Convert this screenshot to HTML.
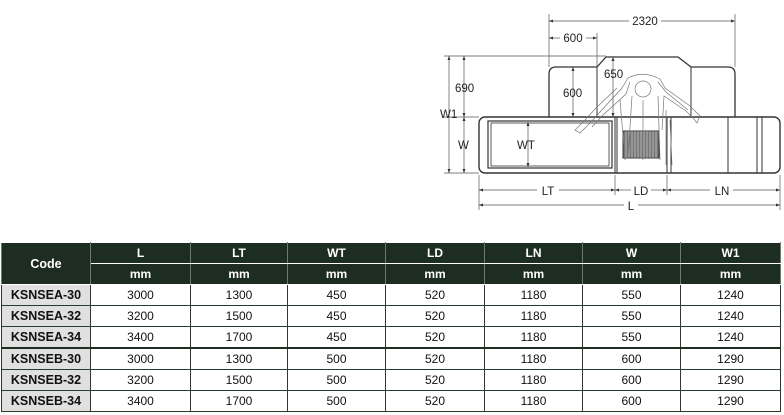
<!DOCTYPE html>
<html><head><meta charset="utf-8"><style>
html,body{margin:0;padding:0;background:#fff;width:784px;height:415px;overflow:hidden;font-family:"Liberation Sans",Arial,sans-serif}
svg{position:absolute;left:0;top:0}
table{position:absolute;left:1px;top:242px;border-collapse:collapse;font-size:12px;table-layout:fixed}
td{padding:0;text-align:center;height:20px;border:1px solid #2a3a2e;color:#111}
.h{background:#1e2d22;color:#fff;font-weight:bold;border-color:#fff #6a7a6e}
.c{background:#e0e0e0;font-weight:bold;font-size:12.5px}
.sep td{border-top:2px solid #1e2d22}
</style></head><body>
<svg width="784" height="240" viewBox="0 0 784 240" font-family="Liberation Sans, Arial, sans-serif" font-size="10" fill="none" stroke="#333" stroke-width="1">
<defs><marker id="a" viewBox="0 0 8 6" refX="8" refY="3" markerWidth="6" markerHeight="5" orient="auto-start-reverse"><path d="M0,0L8,3L0,6z" fill="#333" stroke="none"/></marker></defs>
<path d="M549,117 V74 Q549,67 556,67 H597 L606,57 H678 L691,67 H728 Q735,67 735,74 V117" stroke-width="1.3"/>
<line x1="597" y1="67" x2="597" y2="117"/><line x1="691" y1="67" x2="691" y2="117"/>
<rect x="479" y="117" width="301" height="56" rx="6" stroke-width="1.4"/>
<rect x="488" y="121" width="124" height="47" stroke-width="1.2"/>
<rect x="491" y="123" width="118" height="43" stroke-width="0.8"/>
<line x1="615" y1="117" x2="615" y2="173"/><line x1="617" y1="117" x2="617" y2="173"/>
<line x1="667" y1="117" x2="667" y2="173"/><line x1="671" y1="117" x2="671" y2="173"/>
<line x1="728" y1="117" x2="728" y2="173"/><line x1="757" y1="117" x2="757" y2="173"/><line x1="762" y1="117" x2="762" y2="173"/>
<rect x="623" y="131" width="36" height="27" fill="#777" stroke="#333"/>
<g stroke="#ddd" stroke-width="0.6"><line x1="626" y1="131" x2="626" y2="158"/><line x1="629" y1="131" x2="629" y2="158"/><line x1="632" y1="131" x2="632" y2="158"/><line x1="635" y1="131" x2="635" y2="158"/><line x1="638" y1="131" x2="638" y2="158"/><line x1="641" y1="131" x2="641" y2="158"/><line x1="644" y1="131" x2="644" y2="158"/><line x1="647" y1="131" x2="647" y2="158"/><line x1="650" y1="131" x2="650" y2="158"/><line x1="653" y1="131" x2="653" y2="158"/><line x1="656" y1="131" x2="656" y2="158"/></g>
<g stroke="#777" stroke-width="0.7" fill="none">
<circle cx="643" cy="89" r="8"/>
<path d="M628,78 Q643,70 660,79 L665,88 L690,106 L700,116 L697,123 L693,118 L686,111 L664,96 L662,130"/>
<path d="M628,78 L622,88 L600,112 L590,123 L580,133 L575,130 L585,120 L596,108 L617,88"/>
<path d="M630,82 L626,94 L603,115 L592,127 M658,82 L666,92 L688,110"/>
<path d="M632,96 L628,158 M658,96 L660,160 M643,100 V160 M666,110 L666,165 M670,120 L672,165 M620,100 L625,160"/>
</g>
<g stroke="#555" stroke-width="0.7">
<line x1="549" y1="14" x2="549" y2="67"/><line x1="735" y1="14" x2="735" y2="67"/><line x1="597" y1="33" x2="597" y2="67"/>
<line x1="444" y1="56" x2="606" y2="56"/><line x1="444" y1="117" x2="479" y2="117"/><line x1="444" y1="173" x2="479" y2="173"/>
<line x1="479" y1="175" x2="479" y2="210"/><line x1="780" y1="175" x2="780" y2="210"/>
<line x1="615" y1="175" x2="615" y2="195"/><line x1="667" y1="175" x2="667" y2="195"/>
<line x1="549" y1="21" x2="629" y2="21" marker-start="url(#a)"/><line x1="661" y1="21" x2="735" y2="21" marker-end="url(#a)"/>
<line x1="549" y1="38" x2="560" y2="38" marker-start="url(#a)"/><line x1="586" y1="38" x2="597" y2="38" marker-end="url(#a)"/>
<line x1="449" y1="56" x2="449" y2="173" marker-start="url(#a)" marker-end="url(#a)"/>
<line x1="464" y1="56" x2="464" y2="117" marker-start="url(#a)" marker-end="url(#a)"/>
<line x1="464" y1="117" x2="464" y2="173" marker-start="url(#a)" marker-end="url(#a)"/>
<line x1="573" y1="67" x2="573" y2="117" marker-start="url(#a)" marker-end="url(#a)"/>
<line x1="613" y1="57" x2="613" y2="117" marker-start="url(#a)" marker-end="url(#a)"/>
<line x1="528" y1="122" x2="528" y2="167" marker-start="url(#a)" marker-end="url(#a)"/>
<line x1="479" y1="190" x2="537" y2="190" marker-start="url(#a)"/><line x1="559" y1="190" x2="615" y2="190" marker-end="url(#a)"/>
<line x1="615" y1="190" x2="631" y2="190" marker-start="url(#a)"/><line x1="651" y1="190" x2="667" y2="190" marker-end="url(#a)"/>
<line x1="667" y1="190" x2="710" y2="190" marker-start="url(#a)"/><line x1="733" y1="190" x2="780" y2="190" marker-end="url(#a)"/>
<line x1="479" y1="205" x2="624" y2="205" marker-start="url(#a)"/><line x1="638" y1="205" x2="780" y2="205" marker-end="url(#a)"/>
</g>
<g fill="#222" stroke="none" font-size="11.5">
<text x="645" y="25" text-anchor="middle">2320</text>
<text x="573" y="42" text-anchor="middle">600</text>
<text x="455" y="92">690</text><text x="440" y="118">W1</text><text x="458" y="149">W</text>
<text x="563" y="97">600</text><text x="604" y="78">650</text><text x="517" y="149">WT</text>
<text x="548" y="195" text-anchor="middle">LT</text><text x="641" y="195" text-anchor="middle">LD</text><text x="722" y="195" text-anchor="middle">LN</text><text x="631" y="210" text-anchor="middle">L</text>
</g>
</svg>
<table>
<colgroup><col style="width:89px"><col style="width:100px"><col style="width:97px"><col style="width:98px"><col style="width:99px"><col style="width:98px"><col style="width:98px"><col style="width:100px"></colgroup>
<tr><td class="h" rowspan="2" style="font-size:12.5px">Code</td><td class="h">L</td><td class="h">LT</td><td class="h">WT</td><td class="h">LD</td><td class="h">LN</td><td class="h">W</td><td class="h">W1</td></tr>
<tr><td class="h">mm</td><td class="h">mm</td><td class="h">mm</td><td class="h">mm</td><td class="h">mm</td><td class="h">mm</td><td class="h">mm</td></tr>
<tr><td class="c">KSNSEA-30</td><td>3000</td><td>1300</td><td>450</td><td>520</td><td>1180</td><td>550</td><td>1240</td></tr>
<tr><td class="c">KSNSEA-32</td><td>3200</td><td>1500</td><td>450</td><td>520</td><td>1180</td><td>550</td><td>1240</td></tr>
<tr><td class="c">KSNSEA-34</td><td>3400</td><td>1700</td><td>450</td><td>520</td><td>1180</td><td>550</td><td>1240</td></tr>
<tr class="sep"><td class="c">KSNSEB-30</td><td>3000</td><td>1300</td><td>500</td><td>520</td><td>1180</td><td>600</td><td>1290</td></tr>
<tr><td class="c">KSNSEB-32</td><td>3200</td><td>1500</td><td>500</td><td>520</td><td>1180</td><td>600</td><td>1290</td></tr>
<tr><td class="c">KSNSEB-34</td><td>3400</td><td>1700</td><td>500</td><td>520</td><td>1180</td><td>600</td><td>1290</td></tr>
</table>
</body></html>
